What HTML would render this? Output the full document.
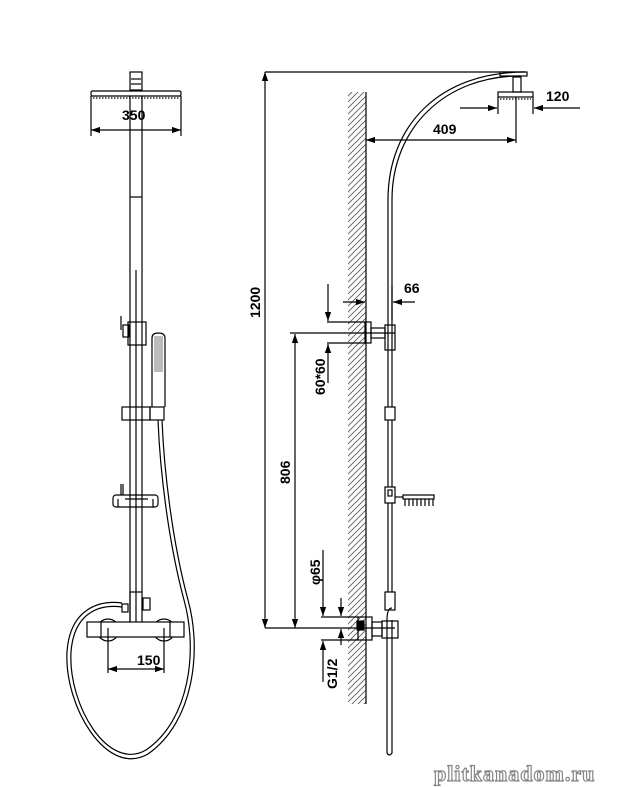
<!DOCTYPE html>
<html><head><meta charset="utf-8"><style>
html,body{margin:0;padding:0;background:#fff;width:622px;height:787px;overflow:hidden}
svg{display:block}
text{font-family:"Liberation Sans",Arial,sans-serif;font-weight:bold;font-size:14px;fill:#000}
</style></head><body>
<svg width="622" height="787" viewBox="0 0 622 787" xmlns="http://www.w3.org/2000/svg">
<defs>
<marker id="a" viewBox="0 0 10 10" refX="10" refY="5" markerWidth="9" markerHeight="9" orient="auto-start-reverse" markerUnits="userSpaceOnUse"><path d="M0,1.5 L10,5 L0,8.5 Z" fill="#000"/></marker>
<pattern id="h" width="6" height="6" patternUnits="userSpaceOnUse"><path d="M-1,7 L7,-1 M-1,1 L1,-1 M5,7 L7,5" stroke="#555" stroke-width="0.8"/></pattern>
</defs>
<g fill="none" stroke="#000" stroke-width="1.2">
<rect x="130" y="72" width="12" height="18"/>
<line x1="131" y1="79" x2="141" y2="79"/><line x1="131" y1="84" x2="141" y2="84"/>
<rect x="91" y="91" width="90" height="5" rx="1.5"/>
<line x1="93" y1="98" x2="179" y2="98" stroke-dasharray="1.5 1.5"/>
<line x1="91" y1="96" x2="91" y2="136"/><line x1="181" y1="96" x2="181" y2="136"/>
<line x1="91" y1="130" x2="181" y2="130" marker-start="url(#a)" marker-end="url(#a)"/>
<line x1="130" y1="96" x2="130" y2="625"/><line x1="142" y1="96" x2="142" y2="592"/>
<line x1="130" y1="197" x2="142" y2="197"/>
<line x1="136" y1="270" x2="136" y2="625"/>
<rect x="128" y="322" width="18" height="23"/>
<rect x="123" y="325" width="6" height="12"/><line x1="121" y1="316" x2="121" y2="330"/>
<path d="M152,407 V338 Q152,333 158,333 Q165,333 165,338 V407"/>
<rect x="154" y="336" width="9" height="36" fill="#bbb" stroke="none"/>
<rect x="122" y="407" width="28" height="13"/><rect x="150" y="407" width="14" height="13"/>
<rect x="113" y="495" width="45" height="12" rx="3"/>
<line x1="125" y1="499" x2="148" y2="499"/>
<line x1="121" y1="484" x2="121" y2="495"/><line x1="123" y1="484" x2="123" y2="495"/>
<line x1="118" y1="499" x2="118" y2="507"/><line x1="153" y1="499" x2="153" y2="507"/>
<rect x="130" y="592" width="12" height="32"/>
<rect x="143" y="598" width="7" height="12"/>
<circle cx="108" cy="630" r="11"/><circle cx="164" cy="630" r="11"/>
<rect x="87" y="622" width="97" height="15" fill="#fff"/>
<line x1="101" y1="622" x2="101" y2="637"/><line x1="170" y1="622" x2="170" y2="637"/>
<line x1="108" y1="628" x2="108" y2="673"/><line x1="164" y1="628" x2="164" y2="673"/>
<line x1="108" y1="669" x2="164" y2="669" marker-start="url(#a)" marker-end="url(#a)"/>
<rect x="122" y="604" width="6" height="8"/>
<path d="M158,420 C160,470 168,540 184,600 C198,650 190,720 146,750 C108,772 68,705 71,652 C74,612 100,604 122,607"/>
<path d="M162,420 C164,470 172,540 188,600 C202,650 194,722 148,754 C106,778 64,705 67,652 C70,608 100,600 122,603"/>

<line x1="265" y1="72" x2="525" y2="72"/>
<line x1="265" y1="72" x2="265" y2="628" marker-start="url(#a)" marker-end="url(#a)"/>
<rect x="348" y="92" width="18" height="612" fill="url(#h)" stroke="none"/>
<line x1="366" y1="92" x2="366" y2="704"/>
<rect x="500" y="72" width="27" height="4" fill="#fff"/>
<path d="M525,72 C440,72 388,125 388,200 V592"/>
<path d="M520,76 C445,76 392,128 392,200 V592"/>
<rect x="513" y="77" width="8" height="15"/>
<rect x="498" y="92" width="35" height="5"/>
<line x1="500" y1="99" x2="531" y2="99" stroke-dasharray="1.5 1.5"/>
<line x1="498" y1="97" x2="498" y2="114"/><line x1="533" y1="97" x2="533" y2="114"/>
<line x1="460" y1="108" x2="497" y2="108" marker-end="url(#a)"/>
<line x1="580" y1="108" x2="534" y2="108" marker-end="url(#a)"/>
<line x1="516" y1="97" x2="516" y2="143"/>
<line x1="366" y1="140" x2="516" y2="140" marker-start="url(#a)" marker-end="url(#a)"/>
<line x1="343" y1="302" x2="365" y2="302" marker-end="url(#a)"/>
<line x1="415" y1="302" x2="393" y2="302" marker-end="url(#a)"/>
<line x1="392" y1="286" x2="392" y2="320"/>
<rect x="365" y="322" width="6" height="21"/>
<rect x="371" y="328" width="14" height="10"/>
<rect x="385" y="325" width="10" height="25"/>
<line x1="327" y1="322" x2="365" y2="322"/><line x1="327" y1="343" x2="365" y2="343"/>
<line x1="290" y1="333" x2="395" y2="333"/>
<line x1="328" y1="284" x2="328" y2="321" marker-end="url(#a)"/>
<line x1="328" y1="383" x2="328" y2="344" marker-end="url(#a)"/>
<line x1="295" y1="334" x2="295" y2="628" marker-start="url(#a)" marker-end="url(#a)"/>
<rect x="385" y="407" width="10" height="13" fill="#fff"/>
<rect x="385" y="487" width="10" height="16" fill="#fff"/>
<rect x="388" y="490" width="4" height="6"/>
<line x1="395" y1="497" x2="403" y2="497"/>
<rect x="403" y="495" width="31" height="4"/>
<path d="M405,499 v7 M409,499 v7 M413,499 v7 M417,499 v7 M421,499 v7 M425,499 v7 M429,499 v7 M433,499 v7"/>
<line x1="323" y1="550" x2="323" y2="616" marker-end="url(#a)"/>
<line x1="321" y1="617" x2="358" y2="617"/>
<line x1="321" y1="640" x2="358" y2="640"/>
<line x1="323" y1="682" x2="323" y2="641" marker-end="url(#a)"/>
<line x1="341" y1="598" x2="341" y2="616" marker-end="url(#a)"/>
<line x1="341" y1="645" x2="341" y2="629" marker-end="url(#a)"/>
<line x1="265" y1="628" x2="395" y2="628"/>
<rect x="358" y="617" width="14" height="23" fill="none"/>
<rect x="357" y="621" width="7" height="9" fill="#000"/>
<rect x="372" y="622" width="10" height="14"/>
<rect x="382" y="621" width="16" height="17"/>
<rect x="385" y="592" width="10" height="18"/>
<path d="M387,620 Q387,608 392,608"/>
<path d="M387,620 V753 Q389,757 392,753 V620"/>
</g>
<text x="122" y="120">350</text>
<text x="546" y="101">120</text>
<text x="433" y="134">409</text>
<text x="404" y="293">66</text>
<text x="137" y="665">150</text>
<text transform="translate(260,318) rotate(-90)">1200</text>
<text transform="translate(325,395) rotate(-90)">60*60</text>
<text transform="translate(290,484) rotate(-90)">806</text>
<text transform="translate(320,585) rotate(-90)">φ65</text>
<text transform="translate(337,689) rotate(-90)">G1/2</text>
<text x="434" y="781" style="font-family:'Liberation Serif',serif;font-weight:bold;font-size:22px;fill:#fff;stroke:#888;stroke-width:1.2;letter-spacing:1px">plitkanadom.ru</text>
</svg>
</body></html>
